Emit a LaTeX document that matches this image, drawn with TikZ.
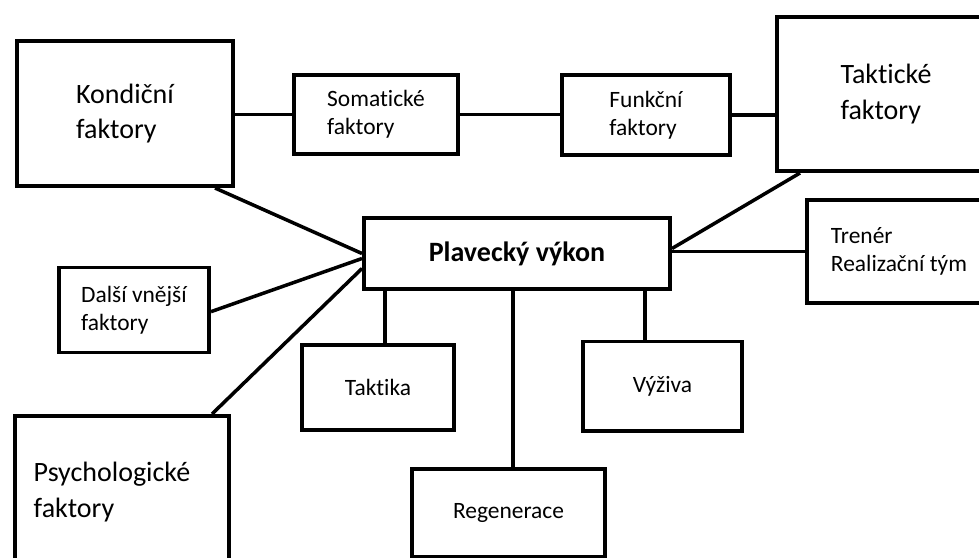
\documentclass[tikz,border=0pt]{standalone}
\usepackage{fontspec}
\setmainfont{Carlito}[Ligatures=CommonOff]
\newcommand{\bigtxt}{\fontsize{23.9}{30}\selectfont}
\newcommand{\smalltxt}{\fontsize{20}{24.3}\selectfont}

\begin{document}
\begin{tikzpicture}[x=0.03cm, y=-0.03cm, line width=3pt,
box/.style ={rectangle, draw, line width=3.4pt, align=left, inner sep=0pt, font=\smalltxt},
bigbox/.style ={box, font=\bigtxt}]
\clip (0,0) rectangle (979,557);
\fill[white] (0,0) rectangle (979,557);
\node[bigbox, minimum width=6.48cm, minimum height=4.35cm] (K) at (125,113.5) {Kondiční\\faktory};
\node[box, minimum width=4.92cm, minimum height=2.37cm] (S) at (376,114.5) {Somatické\\faktory};
\node[box, minimum width=5.04cm, minimum height=2.4cm] (F) at (646,115) {Funkční\\faktory};
\node[bigbox, minimum width=6.54cm, minimum height=4.62cm] (T) at (886,94) {Taktické\\faktory};
\node[bigbox, font=\bigtxt\bfseries, minimum width=9.18cm, minimum height=2.13cm] (P) at (517,253.5) {Plavecký výkon};
\node[box, minimum width=5.52cm, minimum height=3.09cm] (R) at (899,251.5) {Trenér\\Realizační tým};
\node[box, minimum width=4.5cm, minimum height=2.55cm] (D) at (134,310) {Další vnější\\faktory};
\node[box, minimum width=4.56cm, minimum height=2.55cm] (Ta) at (378,387.5) {Taktika};
\node[box, minimum width=4.77cm, minimum height=2.67cm] (V) at (662.5,386) {Výživa};
\node[bigbox, minimum width=6.42cm, minimum height=4.56cm] (Ps) at (122,492) {\hspace*{-0.6cm}Psychologické\\\hspace*{-0.6cm}faktory};
\node[box, minimum width=5.79cm, minimum height=2.64cm] (Re) at (508.5,513) {Regenerace};
\draw (K.east |- S.west) -- (S.west);
\draw (S.east) -- (S.east -| F.west);
\draw (F.east) -- (F.east -| T.west);
\draw ([xshift=-0.6cm]K.south east) -- (P.west);
\draw ([yshift=-0.05cm]D.east) -- ([yshift=-0.15cm]P.west);
\draw ([xshift=-0.57cm]Ps.north east) -- ([yshift=-0.45cm]P.west);
\draw ([xshift=0.75cm]T.south west) -- ([yshift=0.15cm]P.east);
\draw (R.west) -- (R.west -| P.east);
\draw ([xshift=0.21cm]Ta.north) -- ([xshift=0.21cm]Ta.north |- P.south);
\draw ([xshift=0.13cm]Re.north) -- ([xshift=0.13cm]Re.north |- P.south);
\draw ([xshift=-0.52cm]V.north) -- ([xshift=-0.52cm]V.north |- P.south);
\end{tikzpicture}
\end{document}
